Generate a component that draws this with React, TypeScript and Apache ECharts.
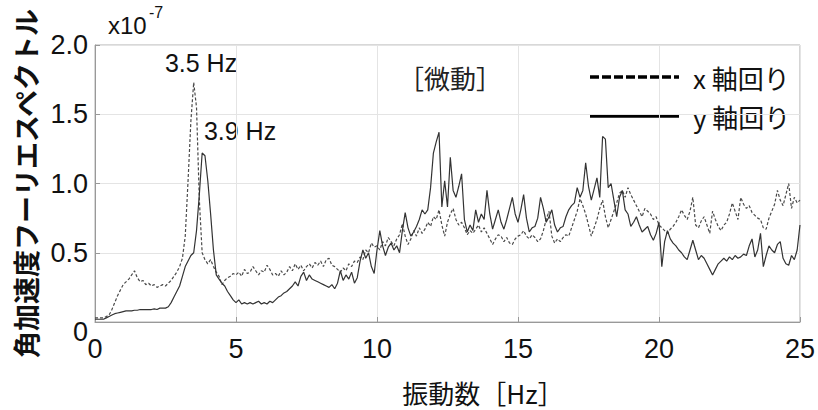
import React, { useEffect, useRef } from "react";
import * as echarts from "echarts";

// Frequency grid: 0 .. 25 Hz, step 0.1 Hz (251 samples)
const FREQ_STEP = 0.1;

// Angular-acceleration Fourier spectrum (×1e-7), rotation about x axis (dashed)
const xRot: number[] = [
  0.03, 0.03, 0.03, 0.03, 0.04, 0.05, 0.09, 0.14, 0.19, 0.23,
  0.27, 0.29, 0.31, 0.34, 0.37, 0.32, 0.29, 0.30, 0.27, 0.28,
  0.26, 0.27, 0.25, 0.26, 0.27, 0.26, 0.28, 0.30, 0.33, 0.36,
  0.40, 0.46, 0.62, 1.02, 1.45, 1.73, 1.55, 0.88, 0.50, 0.45,
  0.42, 0.45, 0.40, 0.36, 0.33, 0.27, 0.30, 0.32, 0.33, 0.35,
  0.34, 0.36, 0.33, 0.38, 0.35, 0.36, 0.40, 0.37, 0.34, 0.37,
  0.36, 0.41, 0.38, 0.34, 0.35, 0.33, 0.37, 0.34, 0.36, 0.40,
  0.37, 0.42, 0.38, 0.41, 0.37, 0.40, 0.42, 0.39, 0.43, 0.41,
  0.44, 0.40, 0.45, 0.46, 0.41, 0.40, 0.38, 0.36, 0.39, 0.37,
  0.42, 0.40, 0.44, 0.43, 0.47, 0.45, 0.52, 0.50, 0.57, 0.54,
  0.55, 0.52, 0.58, 0.55, 0.61, 0.58, 0.55, 0.60, 0.63, 0.71,
  0.62, 0.56, 0.60, 0.66, 0.62, 0.68, 0.64, 0.67, 0.72, 0.69,
  0.76, 0.74, 0.81, 0.70, 0.62, 0.72, 0.78, 0.82, 0.74, 0.70,
  0.72, 0.68, 0.63, 0.66, 0.64, 0.67, 0.70, 0.65, 0.68, 0.64,
  0.60, 0.56, 0.60, 0.63, 0.62, 0.58, 0.61, 0.57, 0.56, 0.60,
  0.62, 0.63, 0.66, 0.62, 0.60, 0.63, 0.61, 0.58, 0.60, 0.66,
  0.74, 0.80, 0.62, 0.57, 0.60, 0.58, 0.61, 0.63, 0.62, 0.68,
  0.74, 0.80, 0.89, 0.84, 0.78, 0.70, 0.62, 0.68, 0.74, 0.82,
  0.88, 0.76, 0.68, 0.74, 0.80, 0.86, 0.93, 0.95, 0.90, 0.97,
  0.92, 0.88, 0.84, 0.80, 0.76, 0.82, 0.80, 0.78, 0.74, 0.76,
  0.70, 0.68, 0.66, 0.64, 0.67, 0.69, 0.72, 0.76, 0.81, 0.77,
  0.74, 0.80, 0.90, 0.70, 0.68, 0.73, 0.76, 0.70, 0.64, 0.80,
  0.74, 0.69, 0.66, 0.70, 0.72, 0.78, 0.86, 0.80, 0.74, 0.90,
  0.85, 0.82, 0.84, 0.79, 0.77, 0.75, 0.74, 0.68, 0.67, 0.75,
  0.80, 0.85, 0.95, 0.88, 0.84, 0.92, 1.00, 0.82, 0.90, 0.86,
  0.88,
];

// Rotation about y axis (solid)
const yRot: number[] = [
  0.02, 0.02, 0.02, 0.02, 0.03, 0.04, 0.05, 0.06, 0.065, 0.07,
  0.075, 0.08, 0.08, 0.08, 0.085, 0.085, 0.09, 0.09, 0.09, 0.09,
  0.09, 0.095, 0.09, 0.10, 0.10, 0.10, 0.11, 0.14, 0.18, 0.22,
  0.26, 0.33, 0.40, 0.44, 0.48, 0.50, 0.66, 0.92, 1.22, 1.20,
  1.02, 0.78, 0.52, 0.34, 0.31, 0.28, 0.26, 0.22, 0.19, 0.16,
  0.14, 0.16, 0.13, 0.14, 0.13, 0.14, 0.13, 0.14, 0.15, 0.13,
  0.14, 0.13, 0.15, 0.14, 0.16, 0.18, 0.19, 0.21, 0.22, 0.24,
  0.26, 0.29, 0.26, 0.33, 0.36, 0.30, 0.34, 0.31, 0.30, 0.29,
  0.28, 0.27, 0.26, 0.25, 0.27, 0.24, 0.28, 0.37, 0.30, 0.34,
  0.31, 0.36, 0.28, 0.32, 0.44, 0.52, 0.46, 0.50, 0.40, 0.35,
  0.52, 0.66, 0.55, 0.48, 0.54, 0.57, 0.52, 0.55, 0.50, 0.66,
  0.79, 0.68, 0.62, 0.65, 0.69, 0.74, 0.81, 0.78, 0.81, 0.97,
  1.22, 1.30, 1.37, 0.83, 1.02, 0.83, 1.19, 0.95, 0.90, 0.98,
  1.07, 0.74, 0.65, 0.70, 0.66, 0.81, 0.72, 0.78, 0.74, 0.95,
  0.78, 0.67, 0.74, 0.81, 0.72, 0.67, 0.74, 0.82, 0.90, 0.78,
  0.72, 0.81, 0.92, 0.75, 0.65, 0.68, 0.69, 0.75, 0.90, 0.82,
  0.72, 0.76, 0.81, 0.70, 0.65, 0.68, 0.69, 0.76, 0.81, 0.84,
  0.86, 0.97, 0.90, 0.95, 1.15, 0.98, 0.88, 0.96, 1.04, 0.90,
  1.34, 1.32, 0.97, 1.00, 0.88, 0.76, 0.90, 0.95, 0.81, 0.78,
  0.69, 0.72, 0.76, 0.70, 0.65, 0.67, 0.69, 0.63, 0.59, 0.64,
  0.72, 0.40, 0.58, 0.66, 0.60, 0.57, 0.55, 0.52, 0.50, 0.47,
  0.45, 0.52, 0.59, 0.52, 0.45, 0.48, 0.46, 0.42, 0.38, 0.34,
  0.38, 0.42, 0.44, 0.46, 0.44, 0.47, 0.45, 0.48, 0.46, 0.47,
  0.49, 0.48, 0.55, 0.60, 0.47, 0.52, 0.64, 0.40, 0.48, 0.55,
  0.52, 0.50, 0.56, 0.58, 0.46, 0.42, 0.41, 0.48, 0.45, 0.52,
  0.70,
];

const xTicks = [0, 5, 10, 15, 20, 25];
const yTicks = [0, 0.5, 1.0, 1.5, 2.0];
const seriesNames = ["x 軸回り", "y 軸回り"];
const peakLabels = ["3.5 Hz", "3.9 Hz"];

const JP = '"Noto Sans CJK JP", sans-serif';
const LAT = '"Liberation Sans", Arial, sans-serif';

const toPairs = (arr: number[]) =>
  arr.map((v, i) => [Number((i * FREQ_STEP).toFixed(2)), v]);

export default function App() {
  const ref = useRef<HTMLDivElement>(null);

  useEffect(() => {
    if (!ref.current) return;
    const chart = echarts.init(ref.current, undefined, { renderer: "svg" });

    const option: any = {
      animation: false,
      backgroundColor: "#ffffff",
      grid: {
        left: 95,
        right: 17,
        top: 45,
        bottom: 88,
        show: true,
        borderColor: "#b0b0b0",
        borderWidth: 1,
      },
      xAxis: {
        type: "value",
        min: xTicks[0],
        max: xTicks[xTicks.length - 1],
        interval: 5,
        axisLine: { show: true, lineStyle: { color: "#999999", width: 1 } },
        axisTick: { show: true, inside: true, length: 5, lineStyle: { color: "#999999" } },
        splitLine: { show: true, lineStyle: { color: "#e4e4e4", width: 1 } },
        axisLabel: {
          color: "#111111",
          fontFamily: LAT,
          fontSize: 27,
          margin: 13,
          formatter: (v: number) => String(v),
        },
      },
      yAxis: {
        type: "value",
        min: yTicks[0],
        max: yTicks[yTicks.length - 1],
        interval: 0.5,
        name: "角加速度フーリエスペクトル",
        nameLocation: "middle",
        nameRotate: 90,
        nameGap: 56,
        nameTextStyle: {
          fontFamily: JP,
          fontSize: 27,
          fontWeight: "bold",
          color: "#111111",
        },
        axisLine: { show: true, lineStyle: { color: "#999999", width: 1 } },
        axisTick: { show: true, inside: true, length: 5, lineStyle: { color: "#999999" } },
        splitLine: { show: true, lineStyle: { color: "#e4e4e4", width: 1 } },
        axisLabel: {
          color: "#111111",
          fontFamily: LAT,
          fontSize: 27,
          margin: 7,
          formatter: (v: number) => (v === 0 ? "{z|0}" : v.toFixed(1)),
          rich: {
            z: { fontFamily: LAT, fontSize: 27, color: "#111111", padding: [20, 0, 0, 0] },
          },
        },
      },
      series: [
        {
          name: seriesNames[0],
          type: "line",
          data: toPairs(xRot),
          showSymbol: false,
          lineStyle: { color: "#4a4a4a", width: 1.2, type: [3, 2] },
          z: 2,
        },
        {
          name: seriesNames[1],
          type: "line",
          data: toPairs(yRot),
          showSymbol: false,
          lineStyle: { color: "#333333", width: 1.2, type: "solid" },
          z: 3,
        },
      ],
      graphic: [
        {
          type: "text",
          x: 108,
          y: 25,
          style: { text: "x10", fontFamily: LAT, fontSize: 24, fill: "#111", align: "left", verticalAlign: "middle" },
        },
        {
          type: "text",
          x: 149,
          y: 12,
          style: { text: "-7", fontFamily: LAT, fontSize: 16, fill: "#111", align: "left", verticalAlign: "middle" },
        },
        {
          type: "text",
          x: 201,
          y: 63,
          style: { text: peakLabels[0], fontFamily: LAT, fontSize: 25, fill: "#111", align: "center", verticalAlign: "middle" },
        },
        {
          type: "text",
          x: 240,
          y: 131,
          style: { text: peakLabels[1], fontFamily: LAT, fontSize: 25, fill: "#111", align: "center", verticalAlign: "middle" },
        },
        {
          type: "text",
          x: 450,
          y: 77,
          style: { text: "［微動］", fontFamily: JP, fontSize: 26, fill: "#222", align: "center", verticalAlign: "middle" },
        },
        {
          type: "line",
          shape: { x1: 590, y1: 77, x2: 679, y2: 77 },
          style: { stroke: "#000", lineWidth: 3.5, lineDash: [9, 3] },
        },
        {
          type: "text",
          x: 693,
          y: 77,
          style: { text: seriesNames[0], fontFamily: JP, fontSize: 26, fill: "#111", align: "left", verticalAlign: "middle" },
        },
        {
          type: "line",
          shape: { x1: 590, y1: 116, x2: 679, y2: 116 },
          style: { stroke: "#000", lineWidth: 3.5 },
        },
        {
          type: "text",
          x: 693,
          y: 116,
          style: { text: seriesNames[1], fontFamily: JP, fontSize: 26, fill: "#111", align: "left", verticalAlign: "middle" },
        },
        {
          type: "text",
          x: 483,
          y: 392,
          style: { text: "振動数［Hz］", fontFamily: JP, fontSize: 26, fill: "#111", align: "center", verticalAlign: "middle" },
        },
      ],
    };

    chart.setOption(option);
    return () => chart.dispose();
  }, []);

  return (
    <div
      ref={ref}
      style={{ position: "fixed", left: 0, top: 0, width: 818, height: 410, background: "#fff" }}
    />
  );
}
